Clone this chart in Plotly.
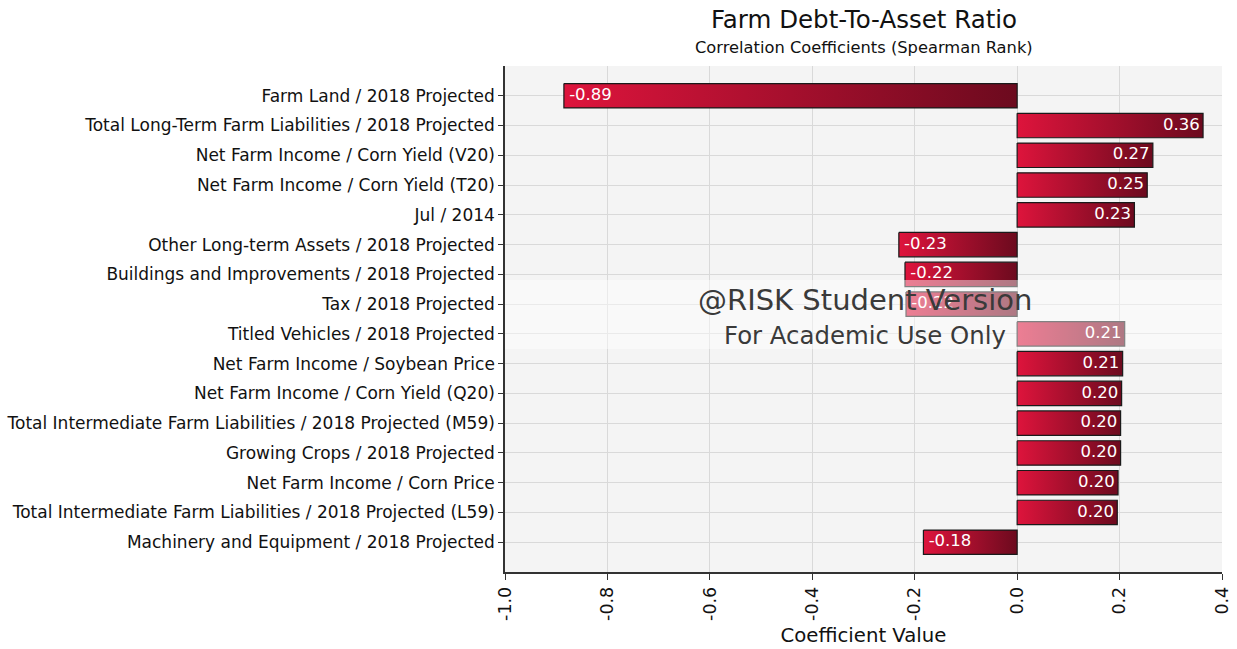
import plotly.graph_objects as go

categories = [
    "Farm Land / 2018 Projected",
    "Total Long-Term Farm Liabilities / 2018 Projected",
    "Net Farm Income / Corn Yield (V20)",
    "Net Farm Income / Corn Yield (T20)",
    "Jul / 2014",
    "Other Long-term Assets / 2018 Projected",
    "Buildings and Improvements / 2018 Projected",
    "Tax / 2018 Projected",
    "Titled Vehicles / 2018 Projected",
    "Net Farm Income / Soybean Price",
    "Net Farm Income / Corn Yield (Q20)",
    "Total Intermediate Farm Liabilities / 2018 Projected (M59)",
    "Growing Crops / 2018 Projected",
    "Net Farm Income / Corn Price",
    "Total Intermediate Farm Liabilities / 2018 Projected (L59)",
    "Machinery and Equipment / 2018 Projected",
]
values = [-0.885, 0.363, 0.265, 0.254, 0.229, -0.231, -0.219, -0.217,
          0.210, 0.206, 0.204, 0.202, 0.202, 0.197, 0.1955, -0.183]

x_ticks = [-1.0, -0.8, -0.6, -0.4, -0.2, 0.0, 0.2, 0.4]
x_ticktext = ["-1.0", "-0.8", "-0.6", "-0.4", "-0.2", "0.0", "0.2", "0.4"]

FONT = "DejaVu Sans"
half = 0.41

fig = go.Figure()
for i, v in enumerate(values):
    lo, hi = min(0, v), max(0, v)
    fig.add_trace(go.Scatter(
        x=[lo, hi, hi, lo, lo],
        y=[i - half, i - half, i + half, i + half, i - half],
        mode="lines", fill="toself",
        line=dict(color="#1a1a1a", width=1.2),
        fillgradient=dict(type="horizontal",
                          colorscale=[[0, "rgb(222,20,60)"], [1, "rgb(108,10,30)"]]),
        hoverinfo="skip", showlegend=False,
    ))

pos_i = [i for i, v in enumerate(values) if v >= 0]
neg_i = [i for i, v in enumerate(values) if v < 0]
fig.add_trace(go.Scatter(
    x=[values[i] for i in pos_i], y=pos_i, mode="text",
    text=[f"{values[i]:.2f}\u2009" for i in pos_i], textposition="middle left",
    textfont=dict(color="white", size=16.5, family=FONT), showlegend=False,
    hoverinfo="skip"))
fig.add_trace(go.Scatter(
    x=[values[i] for i in neg_i], y=neg_i, mode="text",
    text=[f"\u00a0{values[i]:.2f}" for i in neg_i], textposition="middle right",
    textfont=dict(color="white", size=16.5, family=FONT), showlegend=False,
    hoverinfo="skip"))

fig.update_layout(
    width=1237, height=649,
    margin=dict(l=505, r=15, t=66, b=77, autoexpand=False),
    paper_bgcolor="white", plot_bgcolor="#f4f4f4",
    font=dict(family=FONT, size=17, color="#111"),
    xaxis=dict(range=[-1.0, 0.4], tickvals=x_ticks, ticktext=x_ticktext, tickangle=-90,
               automargin=False,
               showgrid=True, gridcolor="#d9d9d9", zeroline=False,
               showline=True, linecolor="#333", linewidth=1.5,
               ticks="outside", ticklen=6, tickcolor="#333",
               tickfont=dict(size=17.5, color="#111"),
               title=dict(text="Coefficient Value", font=dict(size=19.7, color="#111"), standoff=8)),
    yaxis=dict(range=[16, -1], tickvals=list(range(len(categories))), ticktext=categories,
               automargin=False,
               showgrid=True, gridcolor="#d9d9d9", zeroline=False,
               showline=True, linecolor="#333", linewidth=1.5,
               ticks="outside", ticklen=5, tickcolor="#333",
               tickfont=dict(size=17, color="#111")),
    shapes=[dict(type="rect", xref="paper", yref="paper", x0=0, x1=1,
                 y0=(572 - 349) / 506, y1=(572 - 280) / 506,
                 fillcolor="rgba(255,255,255,0.45)", line=dict(width=0), layer="above")],
    annotations=[
        dict(text="Farm Debt-To-Asset Ratio", xref="paper", yref="paper",
             x=0.5, y=(572 - 19) / 506, yanchor="middle", showarrow=False,
             font=dict(size=24.5, color="#111", family=FONT)),
        dict(text="Correlation Coefficients (Spearman Rank)", xref="paper", yref="paper",
             x=0.5, y=(572 - 47) / 506, yanchor="middle", showarrow=False,
             font=dict(size=16.3, color="#111", family=FONT)),
        dict(text="@RISK Student Version", xref="paper", yref="paper",
             x=(865 - 505) / 717, y=(572 - 300) / 506, yanchor="middle", showarrow=False,
             font=dict(size=29, color="#3a3a3a", family=FONT)),
        dict(text="For Academic Use Only", xref="paper", yref="paper",
             x=(865 - 505) / 717, y=(572 - 335) / 506, yanchor="middle", showarrow=False,
             font=dict(size=24.4, color="#3a3a3a", family=FONT)),
    ],
)

fig.write_html("out.html", config={"displayModeBar": False},
               post_script="document.body.style.margin='0';")
